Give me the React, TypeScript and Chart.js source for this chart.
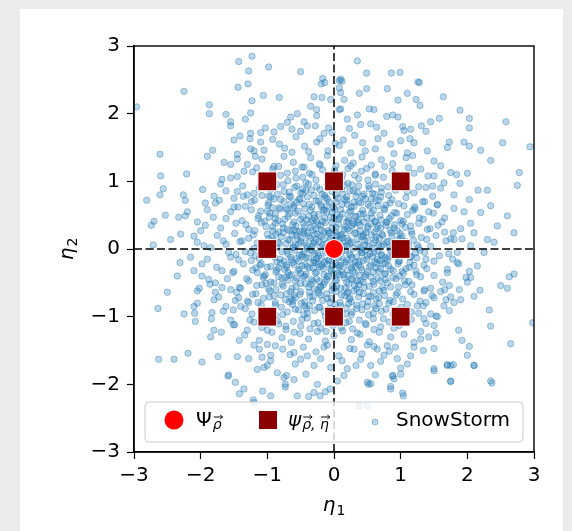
import React, { useEffect, useRef } from "react";
import { Chart, registerables } from "chart.js";

Chart.register(...registerables);

// ---------- data ----------
const axisMin = -3;
const axisMax = 3;
const tickValues = [-3, -2, -1, 0, 1, 2, 3];

const psiRho: [number, number][] = [[0, 0]];
const psiRhoEta: [number, number][] = [
  [-1, 1], [0, 1], [1, 1],
  [-1, 0], [1, 0],
  [-1, -1], [0, -1], [1, -1],
];
const dashVertical: [number, number][] = [[0, -3], [0, 3]];
const dashHorizontal: [number, number][] = [[-3, 0], [3, 0]];

const snowOuter: [number, number][] = [
  [-1.23,2.85],[-1.43,2.77],[-1.28,2.63],[-0.98,2.69],[-0.5,2.62],[-0.17,2.52],[-0.14,2.46],[-2.25,2.33],[-1.44,2.39],[-1.29,2.44],
  [-1.06,2.27],[-0.82,2.24],[-1.23,2.19],[-0.3,2.25],[-0.18,2.24],[-0.05,2.21],[-2.96,2.1],[-1.87,2.13],[-1.87,2.0],[-1.62,1.99],
  [-1.25,2.01],[-1.33,1.92],[-1.55,1.88],[-1.55,1.82],[-0.55,2.0],[-0.35,2.11],[-0.26,2.06],[-0.26,1.97],[-1.03,1.79],[-0.9,1.73],
  [-0.8,1.81],[-0.7,1.87],[-0.63,1.77],[-0.5,1.74],[-0.4,1.82],[-0.28,1.82],[-0.15,1.71],[-0.08,1.79],[-1.5,1.61],[-1.41,1.67],
  [-1.25,1.71],[-1.26,1.63],[-2.61,1.4],[-1.9,1.37],[-1.82,1.46],[-1.65,1.28],[-1.55,1.25],[-1.45,1.33],[-1.25,1.48],[-1.18,1.37],
  [-2.6,1.08],[-2.21,1.11],[-2.56,0.89],[-2.61,0.8],[-2.81,0.72],[-2.7,0.41],[-2.74,0.35],[-2.53,0.5],[-2.33,0.47],[-2.23,0.49],
  [-2.26,0.8],[-2.23,0.72],[-2.3,0.22],[-2.45,0.14],[-2.71,0.06],[-2.1,0.19],[-2.0,0.27],[-2.05,0.4],[-1.93,0.68],[-1.8,0.78],
  [-1.7,0.96],[-1.68,1.03],[-0.19,2.44],[0.08,2.38],[0.1,2.07],
  [0.35,2.78],[0.49,2.6],[0.86,2.6],[0.99,2.61],[1.26,2.47],[1.28,2.46],[0.1,2.51],[0.12,2.48],[0.49,2.37],[0.8,2.37],
  [0.38,2.3],[1.1,2.3],[0.96,2.2],[1.23,2.21],[1.29,2.12],[1.64,2.25],[1.89,2.05],[2.03,1.93],[2.03,1.79],[2.58,1.88],
  [2.94,1.51],[0.53,2.07],[0.6,2.06],[0.79,1.96],[0.88,1.98],[0.96,1.95],[0.35,1.98],[0.4,1.84],[0.23,1.78],[0.64,1.8],
  [0.75,1.71],[1.03,1.81],[1.15,1.77],[1.31,1.82],[1.38,1.74],[1.45,1.88],[1.58,1.93],[1.2,1.57],[1.73,1.58],[1.7,1.5],
  [1.95,1.58],[2.03,1.52],[2.2,1.46],[2.35,1.31],[2.53,1.57],[2.78,1.13],[2.75,0.94],[2.0,1.12],[1.84,1.1],[1.89,0.97],
  [2.16,0.87],[2.3,0.87],[2.03,0.73],[0.08,2.49],[0.1,2.31],[0.15,2.21],[0.08,2.06],[1.14,1.63],[1.1,1.42],[1.5,1.3],
  [1.6,1.23],[1.75,1.13],[1.65,0.98],[1.48,0.93],[2.35,0.64],[2.2,0.54],[2.6,0.49],[2.45,0.34],[2.1,0.24],[2.3,0.14],
  [2.7,0.24],[1.8,0.14],
  [-2.5,-0.64],[-2.64,-0.88],[-2.31,-0.2],[-2.1,-0.32],[-1.98,-0.22],[-2.25,-0.96],[-2.09,-0.95],[-2.08,-1.07],[-1.83,-0.94],[-1.84,-1.03],
  [-1.51,-0.9],[-1.51,-1.12],[-1.8,-1.2],[-1.69,-1.23],[-2.63,-1.63],[-2.4,-1.63],[-2.19,-1.54],[-1.98,-1.67],[-1.74,-1.59],[-1.45,-1.59],
  [-1.28,-1.62],[-1.08,-1.6],[-0.95,-1.57],[-1.58,-1.86],[-1.48,-1.97],[-1.35,-2.07],[-1.21,-2.23],[-0.95,-2.17],[-0.85,-1.83],[-0.71,-1.87],
  [-0.73,-2.0],[-0.6,-1.93],[-0.55,-2.17],[-0.38,-2.18],[-0.3,-2.12],[-0.13,-2.11],[-0.25,-2.0],[-1.0,-1.41],[-1.0,-1.72],[-0.6,-1.53],
  [-0.5,-1.63],[-0.3,-1.72],[-1.78,-0.64],[-1.68,-0.57],[-2.05,-0.62],[-1.48,-0.76],[-1.28,-0.79],[-1.59,-1.88],[-1.42,-2.14],[-1.07,-2.1],
  [-0.73,-2.04],[-0.21,-2.17],[-0.06,-2.07],[0.52,-2.0],[0.85,-2.07],[0.88,-1.88],[1.04,-2.17],[1.5,-1.8],[1.75,-1.96],[2.1,-1.72],
  [2.37,-1.98],[1.75,-1.72],[1.7,-1.72],[-1.2,-2.27],[0.38,-2.32],[0.5,-2.32],
  [1.03,-2.13],[0.85,-2.03],[0.5,-1.97],[0.55,-1.99],[0.88,-1.87],[1.0,-1.76],[1.5,-1.77],[1.7,-1.71],[1.79,-1.71],[2.1,-1.72],
  [1.75,-1.95],[2.35,-1.95],[2.65,-1.4],[2.03,-1.44],[2.0,-1.57],[2.35,-1.14],[2.33,-0.9],[1.87,-1.2],[1.53,-1.24],[1.15,-1.58],
  [1.34,-1.5],[1.5,-1.47],[0.95,-1.62],[0.75,-1.57],[0.65,-1.48],[2.98,-1.09],[2.7,-0.37],[2.63,-0.41],[2.5,-0.54],[2.6,-0.58],
  [2.19,-0.61],[2.05,-0.42],[2.03,-0.33],[1.87,-0.22],[2.0,-0.49],[1.73,-0.54],[1.75,-0.71],[1.6,-0.63],[1.65,-0.84],[1.73,-0.91],
  [1.8,-0.79],[1.53,-0.99],[1.45,-0.96],[1.35,-1.03],[1.25,-0.84],[1.38,-0.79],[0.9,-1.92],[1.5,-1.13],[1.3,-1.33],[1.2,-1.38],
  [0.8,-1.43],[0.55,-1.72],[0.4,-1.63],[0.2,-1.77],[0.15,-1.87],[0.3,-1.48],
  [-1.95,0.05],[-2.15,-0.12],[-1.88,-0.45],[-2.02,-0.58],[-1.93,0.35],[-2.2,0.55],[-1.97,0.88],[-2.35,-0.4],[-2.05,-0.8],[-1.85,-1.3],
  [1.9,0.3],[2.05,0.05],[1.85,-0.2],[2.15,-0.25],[1.95,0.55],[1.88,-0.6],[2.25,-0.05],[1.8,0.8],[2.4,0.1],[1.92,-1.35],
];

const snowMid: [number, number][] = [
  [-0.92,1.62],[-0.74,1.49],[-0.57,1.66],[-0.38,1.44],[-0.21,1.63],[-0.03,1.72],[0.14,1.61],[0.31,1.68],[0.47,1.45],[0.66,1.63],
  [0.9,1.41],[0.55,1.85],[-0.65,1.95],[-0.45,1.88],[0.2,1.92],[0.02,1.56],[-1.1,1.58],[1.0,1.6],
  [-0.95,-1.65],[-0.77,-1.48],[-0.58,-1.7],[-0.4,-1.58],[-0.2,-1.62],[-0.05,-1.75],[0.12,-1.65],[0.33,-1.72],[0.5,-1.42],[0.7,-1.66],
  [0.92,-1.45],[-0.75,-1.9],[-0.42,-1.85],[0.05,-1.95],[0.62,-1.86],[1.1,-1.7],[-1.15,-1.78],[-0.15,-1.45],
  [-1.62,0.45],[-1.75,0.2],[-1.58,-0.05],[-1.68,-0.32],[-1.55,-0.6],[-1.8,-0.75],[-1.9,0.58],[-1.72,0.72],[-1.45,0.85],[-1.98,-0.4],
  [-1.62,-0.85],[-2.05,0.1],[-1.85,0.02],[-1.5,0.62],[-1.43,-0.72],[-1.9,-0.15],[-1.66,0.12],[-1.78,-0.5],[-1.36,0.78],[-2.1,-0.85],
  [1.62,0.4],[1.75,0.15],[1.58,-0.1],[1.7,-0.35],[1.55,0.65],[1.8,0.6],[1.92,0.15],[1.66,-0.6],[1.48,0.78],[1.98,-0.42],
  [1.6,0.9],[2.05,0.38],[1.85,-0.05],[1.5,-0.72],[1.42,0.55],[1.9,-0.75],[1.66,0.25],[1.78,-0.15],[1.35,-0.62],[2.1,-0.7],
  [-1.35,1.15],[-1.2,1.45],[-1.55,1.05],[-1.1,1.72],[1.3,1.18],[1.18,1.38],[1.5,1.08],[1.05,1.75],[-1.3,-1.2],[-1.2,-1.42],
  [-1.55,-1.05],[-1.05,-1.75],[1.3,-1.22],[1.2,-1.45],[1.55,-1.0],[1.0,-1.85],[-1.45,1.4],[1.4,1.45],[-1.42,-1.35],[1.42,-1.3],
];

const snowCore: [number, number][] = [
  [-1.62,0.07],[0.35,0.15],[-0.12,0.02],[0.81,0.11],[-0.79,0.18],[1.45,0.04],[-0.44,0.09],[0.13,0.17],[-1.07,0.05],[0.57,0.01],
  [-0.27,0.14],[1.02,0.19],[-0.61,0.03],[0.24,0.08],[-0.91,0.12],[0.68,0.16],[-0.02,0.1],[-1.28,0.16],[0.46,0.06],[-0.38,0.19],
  [0.94,0.03],[-0.17,0.06],[1.19,0.13],[-0.72,0.08],[0.03,0.18],[-0.55,0.15],[0.29,0.01],[-1.41,0.11],[0.74,0.07],[-0.33,0.04],
  [1.31,0.17],[-0.06,0.13],[0.51,0.12],[-0.86,0.02],[0.19,0.05],[-0.49,0.17],[0.87,0.19],[-1.15,0.09],[0.4,0.02],[-0.22,0.11],
  [1.1,0.08],[-0.66,0.13],[0.63,0.18],[-0.98,0.15],[0.08,0.07],[1.68,0.12],[-0.58,0.06],[-0.31,0.08],[0.09,0.14],[0.44,0.19],
  [-0.84,0.1],[0.71,0.04],[-1.2,0.01],[1.25,0.06],[-0.05,0.16],[0.22,0.12],[-0.4,0.01],[0.6,0.09],[-0.95,0.07],[0.97,0.14],
  [-1.55,-0.12],[0.42,-0.05],[-0.08,-0.17],[0.88,-0.09],[-0.71,-0.03],[1.38,-0.15],[-0.47,-0.11],[0.17,-0.02],[-1.12,-0.14],[0.61,-0.19],
  [-0.29,-0.07],[1.06,-0.04],[-0.64,-0.16],[0.27,-0.13],[-0.93,-0.06],[0.72,-0.1],[0.01,-0.08],[-1.33,-0.04],[0.49,-0.15],[-0.36,-0.01],
  [0.98,-0.18],[-0.19,-0.14],[1.22,-0.06],[-0.75,-0.18],[0.05,-0.03],[-0.52,-0.09],[0.32,-0.19],[-1.47,-0.08],[0.77,-0.13],[-0.3,-0.17],
  [1.29,-0.02],[-0.03,-0.11],[0.54,-0.07],[-0.89,-0.12],[0.2,-0.16],[-0.45,-0.04],[0.84,-0.01],[-1.18,-0.1],[0.38,-0.18],[-0.24,-0.06],
  [1.14,-0.12],[-0.69,-0.07],[0.66,-0.03],[-1.01,-0.05],[0.11,-0.12],[1.72,-0.07],[-0.56,-0.14],[-0.14,-0.19],[0.07,-0.06],[0.47,-0.02],
  [-0.81,-0.15],[0.69,-0.17],[-1.24,-0.17],[1.16,-0.11],[-0.1,-0.04],[0.25,-0.09],[-0.42,-0.13],[0.58,-0.11],[-0.97,-0.01],[0.92,-0.05],
  [-1.7,0.31],[-1.49,0.23],[-1.32,0.36],[-1.19,0.27],[-1.09,0.39],[-1.0,0.22],[-0.92,0.33],[-0.83,0.25],[-0.77,0.37],[-0.7,0.29],
  [-0.63,0.21],[-0.57,0.34],[-0.51,0.26],[-0.46,0.38],[-0.4,0.24],[-0.35,0.32],[-0.29,0.21],[-0.24,0.36],[-0.19,0.28],[-0.13,0.39],
  [-0.08,0.23],[-0.03,0.31],[0.02,0.26],[0.07,0.37],[0.12,0.22],[0.17,0.33],[0.23,0.27],[0.28,0.38],[0.33,0.24],[0.39,0.35],
  [0.44,0.21],[0.5,0.3],[0.55,0.37],[0.61,0.25],[0.66,0.34],[0.72,0.22],[0.78,0.39],[0.84,0.28],[0.91,0.36],[0.99,0.23],
  [1.07,0.32],[1.16,0.26],[1.27,0.38],[1.4,0.29],[1.56,0.35],[1.79,0.24],[-0.6,0.28],[-0.27,0.3],[0.05,0.21],[0.36,0.39],
  [0.7,0.31],[-0.88,0.38],[1.02,0.37],[-0.15,0.25],[0.2,0.3],[-0.45,0.27],
  [-1.76,-0.27],[-1.52,-0.35],[-1.36,-0.22],[-1.22,-0.31],[-1.11,-0.24],[-1.03,-0.38],[-0.95,-0.26],[-0.87,-0.34],[-0.8,-0.21],[-0.74,-0.3],
  [-0.67,-0.39],[-0.6,-0.23],[-0.54,-0.32],[-0.48,-0.25],[-0.42,-0.37],[-0.37,-0.28],[-0.31,-0.2],[-0.26,-0.34],[-0.2,-0.26],[-0.15,-0.38],
  [-0.1,-0.22],[-0.05,-0.3],[0.0,-0.36],[0.06,-0.24],[0.11,-0.33],[0.16,-0.21],[0.21,-0.39],[0.26,-0.28],[0.31,-0.35],[0.37,-0.23],
  [0.42,-0.31],[0.48,-0.38],[0.53,-0.26],[0.59,-0.34],[0.64,-0.21],[0.7,-0.29],[0.76,-0.37],[0.82,-0.25],[0.89,-0.32],[0.96,-0.22],
  [1.04,-0.36],[1.13,-0.27],[1.23,-0.33],[1.35,-0.24],[1.5,-0.39],[1.7,-0.3],[-0.83,-0.28],[-0.5,-0.36],[-0.23,-0.23],[0.09,-0.38],
  [0.4,-0.27],[0.73,-0.22],[-1.15,-0.35],[1.08,-0.29],[-0.02,-0.25],[0.28,-0.33],
  [-1.81,0.47],[-1.55,0.55],[-1.38,0.42],[-1.24,0.58],[-1.13,0.49],[-1.04,0.41],[-0.96,0.53],[-0.88,0.45],[-0.81,0.59],[-0.74,0.44],
  [-0.67,0.52],[-0.6,0.4],[-0.54,0.56],[-0.47,0.48],[-0.41,0.43],[-0.35,0.57],[-0.29,0.46],[-0.23,0.51],[-0.17,0.41],[-0.11,0.55],
  [-0.05,0.47],[0.01,0.59],[0.07,0.44],[0.13,0.52],[0.19,0.4],[0.25,0.56],[0.31,0.48],[0.37,0.43],[0.43,0.57],[0.49,0.46],
  [0.56,0.53],[0.62,0.41],[0.69,0.5],[0.76,0.58],[0.83,0.45],[0.91,0.54],[1.0,0.42],[1.1,0.51],[1.21,0.59],[1.34,0.44],
  [1.49,0.53],[1.66,0.46],[-0.7,0.58],[-0.32,0.42],[0.04,0.5],[0.4,0.52],[0.8,0.4],[-1.0,0.56],[0.22,0.45],[-0.14,0.58],
  [-1.86,-0.52],[-1.6,-0.44],[-1.42,-0.57],[-1.28,-0.47],[-1.16,-0.54],[-1.06,-0.42],[-0.98,-0.59],[-0.9,-0.5],[-0.83,-0.41],[-0.76,-0.55],
  [-0.69,-0.46],[-0.63,-0.58],[-0.56,-0.43],[-0.5,-0.51],[-0.44,-0.4],[-0.38,-0.56],[-0.32,-0.48],[-0.26,-0.44],[-0.2,-0.57],[-0.14,-0.49],
  [-0.08,-0.41],[-0.02,-0.54],[0.04,-0.46],[0.1,-0.58],[0.16,-0.43],[0.22,-0.52],[0.28,-0.45],[0.34,-0.59],[0.4,-0.47],[0.46,-0.41],
  [0.53,-0.55],[0.59,-0.48],[0.66,-0.43],[0.73,-0.57],[0.8,-0.5],[0.88,-0.42],[0.97,-0.56],[1.06,-0.47],[1.17,-0.53],[1.3,-0.41],
  [1.45,-0.58],[1.63,-0.49],[-0.73,-0.42],[-0.35,-0.52],[0.0,-0.58],[0.37,-0.53],[0.77,-0.45],[-1.02,-0.51],[0.19,-0.49],[-0.11,-0.45],
  [-1.78,0.68],[-1.5,0.75],[-1.33,0.63],[-1.19,0.72],[-1.08,0.79],[-0.99,0.65],[-0.9,0.74],[-0.82,0.61],[-0.75,0.7],[-0.67,0.78],
  [-0.6,0.64],[-0.53,0.73],[-0.46,0.67],[-0.4,0.77],[-0.33,0.62],[-0.27,0.71],[-0.2,0.66],[-0.14,0.79],[-0.07,0.69],[-0.01,0.61],
  [0.06,0.75],[0.12,0.66],[0.19,0.72],[0.26,0.62],[0.33,0.78],[0.4,0.68],[0.47,0.74],[0.54,0.63],[0.62,0.71],[0.7,0.77],
  [0.78,0.65],[0.87,0.73],[0.97,0.67],[1.08,0.76],[1.21,0.62],[1.36,0.7],[1.55,0.66],[-0.56,0.69],[-0.1,0.74],[0.3,0.69],
  [0.66,0.64],[-0.95,0.77],
  [-1.73,-0.71],[-1.46,-0.64],[-1.3,-0.77],[-1.17,-0.66],[-1.06,-0.73],[-0.96,-0.62],[-0.88,-0.79],[-0.8,-0.68],[-0.73,-0.75],[-0.65,-0.63],
  [-0.58,-0.72],[-0.51,-0.67],[-0.44,-0.78],[-0.37,-0.64],[-0.31,-0.7],[-0.24,-0.61],[-0.17,-0.76],[-0.11,-0.66],[-0.04,-0.73],[0.03,-0.63],
  [0.09,-0.79],[0.16,-0.69],[0.23,-0.74],[0.3,-0.62],[0.37,-0.71],[0.44,-0.66],[0.51,-0.78],[0.59,-0.64],[0.67,-0.72],[0.75,-0.61],
  [0.84,-0.76],[0.93,-0.68],[1.03,-0.74],[1.15,-0.63],[1.29,-0.77],[1.47,-0.69],[1.68,-0.75],[-0.62,-0.77],[-0.2,-0.68],[0.2,-0.65],
  [0.55,-0.7],[0.89,-0.78],
  [-1.62,0.86],[-1.37,0.93],[-1.2,0.82],[-1.06,0.97],[-0.95,0.88],[-0.85,0.81],[-0.76,0.95],[-0.67,0.84],[-0.59,0.91],[-0.5,0.83],
  [-0.42,0.98],[-0.34,0.87],[-0.26,0.92],[-0.18,0.81],[-0.1,0.96],[-0.03,0.85],[0.05,0.9],[0.13,0.82],[0.21,0.97],[0.29,0.86],
  [0.37,0.93],[0.45,0.81],[0.53,0.89],[0.62,0.96],[0.71,0.84],[0.81,0.92],[0.92,0.87],[1.05,0.95],[1.2,0.83],[1.38,0.91],
  [-0.47,0.89],[0.16,0.94],[0.58,0.82],
  [-1.66,-0.92],[-1.4,-0.85],[-1.23,-0.96],[-1.09,-0.83],[-0.98,-0.91],[-0.88,-0.98],[-0.79,-0.86],[-0.7,-0.93],[-0.62,-0.82],[-0.53,-0.9],
  [-0.45,-0.97],[-0.37,-0.84],[-0.29,-0.91],[-0.21,-0.86],[-0.13,-0.99],[-0.06,-0.88],[0.02,-0.82],[0.1,-0.94],[0.18,-0.87],[0.26,-0.97],
  [0.34,-0.83],[0.42,-0.9],[0.5,-0.85],[0.59,-0.95],[0.68,-0.81],[0.78,-0.89],[0.89,-0.96],[1.01,-0.86],[1.16,-0.93],[1.34,-0.84],
  [-0.41,-0.88],[0.22,-0.81],[0.63,-0.88],
  [-1.45,1.07],[-1.22,1.14],[-1.05,1.03],[-0.92,1.18],[-0.8,1.09],[-0.69,1.01],[-0.58,1.15],[-0.47,1.06],[-0.37,1.12],[-0.27,1.02],
  [-0.17,1.17],[-0.08,1.08],[0.02,1.13],[0.11,1.04],[0.21,1.19],[0.31,1.09],[0.41,1.15],[0.51,1.02],[0.62,1.11],[0.74,1.06],
  [0.87,1.16],[1.02,1.05],[1.2,1.12],[1.41,1.08],
  [-1.49,-1.12],[-1.26,-1.05],[-1.08,-1.16],[-0.95,-1.04],[-0.83,-1.11],[-0.72,-1.19],[-0.61,-1.07],[-0.5,-1.14],[-0.4,-1.02],[-0.3,-1.1],
  [-0.2,-1.17],[-0.11,-1.06],[-0.01,-1.13],[0.09,-1.01],[0.18,-1.09],[0.28,-1.18],[0.38,-1.05],[0.48,-1.12],[0.59,-1.03],[0.7,-1.15],
  [0.83,-1.08],[0.98,-1.13],[1.16,-1.04],[1.38,-1.1],
  [-1.3,1.25],[-1.08,1.33],[-0.9,1.22],[-0.75,1.37],[-0.61,1.28],[-0.48,1.21],[-0.35,1.35],[-0.22,1.26],[-0.1,1.38],[0.03,1.23],
  [0.16,1.31],[0.29,1.27],[0.42,1.36],[0.56,1.24],[0.71,1.32],[0.88,1.26],[1.08,1.35],
  [-1.34,-1.27],[-1.12,-1.35],[-0.93,-1.23],[-0.78,-1.31],[-0.64,-1.38],[-0.51,-1.25],[-0.38,-1.33],[-0.25,-1.22],[-0.13,-1.36],[0.0,-1.28],
  [0.13,-1.21],[0.26,-1.34],[0.39,-1.26],[0.53,-1.37],[0.68,-1.23],[0.85,-1.3],[1.05,-1.26],
  [-1.05,1.46],[-0.82,1.55],[-0.63,1.43],[-0.44,1.52],[-0.26,1.58],[-0.09,1.45],[0.08,1.53],[0.25,1.42],[0.43,1.57],[0.62,1.48],[0.85,1.55],
  [-1.12,-1.48],[-0.88,-1.43],[-0.66,-1.56],[-0.46,-1.45],[-0.27,-1.52],[-0.1,-1.42],[0.07,-1.58],[0.24,-1.47],[0.42,-1.55],[0.6,-1.44],[0.83,-1.51],
];

const snowInner: [number, number][] = [
  [-1.38,0.12],[-1.21,0.21],[-1.04,0.03],[-0.93,0.17],[-0.82,0.08],[-0.76,0.24],[-0.69,0.14],[-0.62,0.02],[-0.57,0.2],[-0.5,0.11],
  [-0.46,0.23],[-0.41,0.05],[-0.36,0.16],[-0.3,0.1],[-0.25,0.22],[-0.21,0.03],[-0.16,0.15],[-0.11,0.08],[-0.07,0.24],[-0.01,0.05],
  [0.04,0.12],[0.1,0.2],[0.15,0.04],[0.2,0.16],[0.26,0.1],[0.31,0.23],[0.36,0.07],[0.41,0.18],[0.46,0.12],[0.52,0.03],
  [0.56,0.21],[0.62,0.13],[0.67,0.06],[0.73,0.2],[0.79,0.1],[0.86,0.24],[0.93,0.06],[1.0,0.16],[1.08,0.11],[1.17,0.22],
  [1.27,0.02],[1.39,0.14],[1.53,0.2],[-0.53,0.07],[-0.19,0.19],[0.13,0.09],[0.48,0.24],[0.83,0.02],[-0.87,0.22],[1.12,0.05],
  [-1.43,-0.16],[-1.25,-0.06],[-1.09,-0.22],[-0.97,-0.1],[-0.86,-0.19],[-0.78,-0.04],[-0.71,-0.24],[-0.65,-0.12],[-0.59,-0.02],[-0.53,-0.18],
  [-0.48,-0.08],[-0.43,-0.23],[-0.38,-0.13],[-0.33,-0.03],[-0.28,-0.2],[-0.23,-0.1],[-0.18,-0.24],[-0.13,-0.05],[-0.08,-0.16],[-0.04,-0.09],
  [0.02,-0.21],[0.07,-0.13],[0.12,-0.03],[0.18,-0.19],[0.23,-0.07],[0.28,-0.23],[0.34,-0.12],[0.39,-0.02],[0.44,-0.17],[0.5,-0.1],
  [0.55,-0.24],[0.6,-0.05],[0.65,-0.15],[0.71,-0.08],[0.77,-0.21],[0.83,-0.11],[0.9,-0.03],[0.97,-0.18],[1.05,-0.08],[1.14,-0.2],
  [1.24,-0.13],[1.36,-0.05],[1.5,-0.18],[-0.62,-0.2],[-0.26,-0.14],[0.1,-0.24],[0.42,-0.06],[0.8,-0.16],[-0.92,-0.03],[1.2,-0.24],
  [-1.47,0.38],[-1.28,0.29],[-1.14,0.45],[-1.02,0.33],[-0.92,0.27],[-0.84,0.42],[-0.76,0.31],[-0.69,0.48],[-0.62,0.36],[-0.56,0.26],
  [-0.5,0.44],[-0.44,0.33],[-0.38,0.49],[-0.32,0.28],[-0.26,0.41],[-0.2,0.35],[-0.14,0.46],[-0.09,0.27],[-0.03,0.39],[0.03,0.32],
  [0.09,0.47],[0.15,0.29],[0.21,0.42],[0.27,0.34],[0.33,0.48],[0.39,0.27],[0.45,0.4],[0.51,0.33],[0.57,0.46],[0.64,0.3],
  [0.71,0.43],[0.78,0.35],[0.86,0.49],[0.95,0.27],[1.04,0.41],[1.15,0.34],[1.28,0.46],[1.44,0.3],[-0.66,0.27],[-0.35,0.39],
  [0.0,0.45],[0.3,0.37],[0.62,0.4],[-0.97,0.47],[0.9,0.31],
  [-1.5,-0.33],[-1.31,-0.44],[-1.17,-0.28],[-1.05,-0.4],[-0.95,-0.49],[-0.86,-0.31],[-0.78,-0.43],[-0.71,-0.27],[-0.64,-0.38],[-0.58,-0.47],
  [-0.52,-0.3],[-0.46,-0.41],[-0.4,-0.26],[-0.34,-0.45],[-0.28,-0.35],[-0.22,-0.48],[-0.16,-0.29],[-0.1,-0.4],[-0.04,-0.32],[0.02,-0.46],
  [0.08,-0.27],[0.14,-0.38],[0.2,-0.31],[0.26,-0.44],[0.32,-0.26],[0.38,-0.39],[0.44,-0.49],[0.5,-0.34],[0.56,-0.42],[0.63,-0.28],
  [0.7,-0.47],[0.77,-0.36],[0.85,-0.3],[0.93,-0.44],[1.02,-0.33],[1.12,-0.48],[1.24,-0.38],[1.39,-0.29],[-0.69,-0.35],[-0.31,-0.28],
  [0.05,-0.36],[0.35,-0.47],[0.67,-0.33],[-1.0,-0.27],[0.98,-0.4],
  [-1.44,0.62],[-1.24,0.7],[-1.1,0.56],[-0.98,0.68],[-0.88,0.52],[-0.8,0.73],[-0.72,0.6],[-0.65,0.67],[-0.58,0.53],[-0.51,0.74],
  [-0.44,0.59],[-0.37,0.66],[-0.3,0.51],[-0.23,0.71],[-0.16,0.57],[-0.1,0.64],[-0.03,0.54],[0.03,0.69],[0.1,0.58],[0.16,0.73],
  [0.23,0.55],[0.3,0.63],[0.37,0.7],[0.44,0.52],[0.51,0.66],[0.59,0.57],[0.67,0.72],[0.75,0.6],[0.84,0.68],[0.94,0.53],
  [1.05,0.64],[1.18,0.57],[1.33,0.7],[-0.61,0.61],[-0.19,0.62],[0.2,0.66],[0.56,0.74],[-0.92,0.61],
  [-1.4,-0.58],[-1.22,-0.67],[-1.08,-0.53],[-0.97,-0.71],[-0.87,-0.6],[-0.78,-0.52],[-0.71,-0.66],[-0.64,-0.74],[-0.57,-0.56],[-0.5,-0.63],
  [-0.43,-0.51],[-0.36,-0.7],[-0.29,-0.59],[-0.23,-0.65],[-0.16,-0.53],[-0.1,-0.73],[-0.03,-0.61],[0.04,-0.55],[0.11,-0.68],[0.17,-0.58],
  [0.24,-0.72],[0.31,-0.54],[0.38,-0.64],[0.45,-0.57],[0.52,-0.7],[0.6,-0.52],[0.68,-0.62],[0.76,-0.69],[0.85,-0.56],[0.95,-0.65],
  [1.07,-0.53],[1.2,-0.67],[1.36,-0.6],[-0.6,-0.68],[-0.2,-0.55],[0.21,-0.63],[0.63,-0.74],[-0.9,-0.69],
  [-1.3,0.8],[-1.12,0.9],[-0.98,0.78],[-0.86,0.95],[-0.75,0.85],[-0.65,0.77],[-0.56,0.93],[-0.47,0.82],[-0.38,0.96],[-0.3,0.79],
  [-0.21,0.88],[-0.13,0.76],[-0.05,0.94],[0.03,0.8],[0.11,0.89],[0.19,0.77],[0.27,0.95],[0.35,0.84],[0.43,0.78],[0.52,0.93],
  [0.61,0.81],[0.71,0.9],[0.82,0.79],[0.95,0.96],[1.1,0.85],[1.27,0.92],[-0.42,0.87],[0.24,0.86],
  [-1.33,-0.88],[-1.14,-0.79],[-1.0,-0.94],[-0.88,-0.83],[-0.77,-0.97],[-0.67,-0.78],[-0.58,-0.89],[-0.49,-0.8],[-0.4,-0.95],[-0.32,-0.77],
  [-0.23,-0.86],[-0.15,-0.92],[-0.06,-0.79],[0.02,-0.9],[0.1,-0.84],[0.18,-0.96],[0.26,-0.78],[0.34,-0.88],[0.43,-0.81],[0.52,-0.97],
  [0.61,-0.84],[0.71,-0.92],[0.82,-0.8],[0.95,-0.9],[1.1,-0.82],[1.27,-0.95],[-0.44,-0.84],[0.27,-0.93],
  [-1.16,1.2],[-0.97,1.08],[-0.83,1.22],[-0.7,1.12],[-0.57,1.05],[-0.45,1.21],[-0.33,1.1],[-0.21,1.24],[-0.1,1.03],[0.01,1.17],
  [0.13,1.1],[0.25,1.23],[0.37,1.04],[0.49,1.19],[0.62,1.09],[0.76,1.22],[0.92,1.1],[1.12,1.2],
  [-1.2,-1.08],[-1.0,-1.2],[-0.85,-1.06],[-0.72,-1.14],[-0.6,-1.23],[-0.48,-1.04],[-0.36,-1.18],[-0.24,-1.09],[-0.12,-1.22],[-0.01,-1.05],
  [0.11,-1.16],[0.23,-1.07],[0.35,-1.24],[0.47,-1.1],[0.6,-1.19],[0.74,-1.03],[0.9,-1.17],[1.1,-1.08],
];

// ---------- styles ----------
const FONT = "'DejaVu Sans', 'Liberation Sans', sans-serif";
const SNOW_FILL = "rgba(31,119,180,0.3)";
const SNOW_EDGE = "rgba(31,119,180,0.38)";
const SQUARE_COLOR = "#8b0000";
const CIRCLE_COLOR = "#ff0000";

const toXY = (arr: [number, number][]) => arr.map(([x, y]) => ({ x, y }));
const fmt = (v: number) => (v < 0 ? "\u2212" + Math.abs(v) : String(v));

function drawArrow(ctx: CanvasRenderingContext2D, x0: number, x1: number, y: number) {
  ctx.save();
  ctx.strokeStyle = "#111";
  ctx.lineWidth = 1;
  ctx.beginPath();
  ctx.moveTo(x0, y);
  ctx.lineTo(x1, y);
  ctx.moveTo(x1 - 2.5, y - 2);
  ctx.lineTo(x1, y);
  ctx.lineTo(x1 - 2.5, y + 2);
  ctx.stroke();
  ctx.restore();
}

const decorPlugin = {
  id: "decor",
  afterDatasetsDraw(chart: any) {
    const ctx: CanvasRenderingContext2D = chart.ctx;
    const a = chart.chartArea;
    ctx.save();
    ctx.strokeStyle = "#000";
    ctx.lineWidth = 1.4;
    ctx.strokeRect(a.left, a.top, a.right - a.left, a.bottom - a.top);
    ctx.restore();

    // legend
    const lx = a.left + 11;
    const lr = a.right - 11;
    const lb = a.bottom - 10;
    const lt = lb - 40;
    ctx.save();
    ctx.beginPath();
    const r = 4;
    ctx.moveTo(lx + r, lt);
    ctx.lineTo(lr - r, lt);
    ctx.quadraticCurveTo(lr, lt, lr, lt + r);
    ctx.lineTo(lr, lb - r);
    ctx.quadraticCurveTo(lr, lb, lr - r, lb);
    ctx.lineTo(lx + r, lb);
    ctx.quadraticCurveTo(lx, lb, lx, lb - r);
    ctx.lineTo(lx, lt + r);
    ctx.quadraticCurveTo(lx, lt, lx + r, lt);
    ctx.closePath();
    ctx.fillStyle = "rgba(255,255,255,0.8)";
    ctx.fill();
    ctx.strokeStyle = "#cccccc";
    ctx.lineWidth = 1;
    ctx.stroke();

    const cy = lt + 18;
    const base = lt + 24;
    ctx.beginPath();
    ctx.arc(lx + 29, cy, 9.5, 0, Math.PI * 2);
    ctx.fillStyle = CIRCLE_COLOR;
    ctx.fill();
    ctx.fillStyle = "#000";
    ctx.textBaseline = "alphabetic";
    ctx.textAlign = "left";
    ctx.font = `20px ${FONT}`;
    let tx = lx + 51;
    ctx.fillText("Ψ", tx, base);
    tx += ctx.measureText("Ψ").width + 1;
    ctx.font = `italic 14px ${FONT}`;
    ctx.fillText("ρ", tx, base + 3);
    const wr = ctx.measureText("ρ").width;
    drawArrow(ctx, tx + 1, tx + wr + 1, base - 9);

    ctx.fillStyle = SQUARE_COLOR;
    ctx.fillRect(lx + 114, cy - 9, 18, 18);
    ctx.fillStyle = "#000";
    ctx.font = `italic 20px ${FONT}`;
    tx = lx + 143;
    ctx.fillText("ψ", tx, base);
    tx += ctx.measureText("ψ").width + 1;
    ctx.font = `italic 14px ${FONT}`;
    ctx.fillText("ρ, η", tx, base + 3);
    const wr2 = ctx.measureText("ρ").width;
    const wpre = ctx.measureText("ρ, ").width;
    const weta = ctx.measureText("η").width;
    drawArrow(ctx, tx + 1, tx + wr2 + 1, base - 9);
    drawArrow(ctx, tx + wpre + 1, tx + wpre + weta + 1, base - 9);

    ctx.beginPath();
    ctx.arc(lx + 230, cy + 2, 3, 0, Math.PI * 2);
    ctx.fillStyle = SNOW_FILL;
    ctx.fill();
    ctx.strokeStyle = SNOW_EDGE;
    ctx.stroke();
    ctx.fillStyle = "#000";
    ctx.font = `20px ${FONT}`;
    ctx.fillText("SnowStorm", lx + 251, base);
    ctx.restore();
  },
  afterDraw(chart: any) {
    const ctx: CanvasRenderingContext2D = chart.ctx;
    const a = chart.chartArea;
    ctx.save();
    ctx.fillStyle = "#000";
    ctx.textBaseline = "alphabetic";
    ctx.textAlign = "left";
    ctx.font = `italic 20px ${FONT}`;
    const we = ctx.measureText("η").width;
    ctx.font = `14px ${FONT}`;
    const w1 = ctx.measureText("1").width;
    const cx = (a.left + a.right) / 2;
    let x0 = cx - (we + w1 + 1) / 2;
    const by = a.bottom + 59;
    ctx.font = `italic 20px ${FONT}`;
    ctx.fillText("η", x0, by);
    ctx.font = `14px ${FONT}`;
    ctx.fillText("1", x0 + we + 1, by + 4);
    const cyy = (a.top + a.bottom) / 2;
    ctx.translate(a.left - 61, cyy);
    ctx.rotate(-Math.PI / 2);
    ctx.font = `14px ${FONT}`;
    const w2 = ctx.measureText("2").width;
    x0 = -(we + w2 + 1) / 2;
    ctx.font = `italic 20px ${FONT}`;
    ctx.fillText("η", x0, 0);
    ctx.font = `14px ${FONT}`;
    ctx.fillText("2", x0 + we + 1, 4);
    ctx.restore();
  },
};

function axisOptions(isY: boolean) {
  return {
    type: "linear" as const,
    min: axisMin,
    max: axisMax,
    afterBuildTicks: (scale: any) => {
      scale.ticks = tickValues.map((v) => ({ value: v }));
    },
    afterFit: (scale: any) => {
      if (isY) scale.width = 114;
      else scale.height = 79;
    },
    ticks: {
      color: "#000",
      font: { family: FONT, size: 20 },
      padding: isY ? 7 : 5,
      callback: (v: any) => fmt(Number(v)),
      maxRotation: 0,
      autoSkip: false,
    },
    grid: {
      display: true,
      drawOnChartArea: false,
      drawTicks: true,
      tickLength: 7,
      tickColor: "#000",
      tickWidth: 1.2,
    },
    border: { display: true, color: "#000", width: 1.4 },
    title: { display: false },
  };
}

export default function App() {
  const ref = useRef<HTMLCanvasElement | null>(null);
  useEffect(() => {
    if (!ref.current) return;
    const chart = new Chart(ref.current, {
      type: "scatter",
      data: {
        datasets: [
          {
            label: "Ψρ",
            data: toXY(psiRho),
            pointStyle: "circle",
            pointRadius: 9.5,
            backgroundColor: CIRCLE_COLOR,
            borderColor: "#ffffff",
            borderWidth: 1.2,
            order: 0,
          } as any,
          {
            label: "ψρη",
            data: toXY(psiRhoEta),
            pointStyle: "rect",
            pointRadius: 13.3,
            backgroundColor: SQUARE_COLOR,
            borderColor: "#ffffff",
            borderWidth: 1,
            order: 1,
          } as any,
          {
            label: "vline",
            data: toXY(dashVertical),
            showLine: true,
            pointRadius: 0,
            borderColor: "#000",
            borderWidth: 1.5,
            borderDash: [8, 3.5],
            order: 2,
          } as any,
          {
            label: "hline",
            data: toXY(dashHorizontal),
            showLine: true,
            pointRadius: 0,
            borderColor: "#000",
            borderWidth: 1.5,
            borderDash: [8, 3.5],
            order: 2,
          } as any,
          {
            label: "SnowStorm",
            data: toXY([...snowOuter, ...snowMid, ...snowCore, ...snowInner]),
            pointStyle: "circle",
            pointRadius: 3.2,
            backgroundColor: SNOW_FILL,
            borderColor: SNOW_EDGE,
            borderWidth: 1,
            clip: 0,
            order: 3,
          } as any,
        ],
      },
      options: {
        responsive: false,
        animation: false,
        events: [],
        layout: { padding: { left: 0, right: 29, top: 37, bottom: 0 } },
        plugins: {
          legend: { display: false },
          tooltip: { enabled: false },
        },
        scales: {
          x: axisOptions(false) as any,
          y: axisOptions(true) as any,
        },
      },
      plugins: [decorPlugin],
    });
    return () => chart.destroy();
  }, []);

  return (
    <div style={{ position: "fixed", left: 0, top: 0, width: 572, height: 531, background: "#ebebeb" }}>
      <div style={{ position: "absolute", left: 20, top: 9, width: 543, height: 522, background: "#ffffff" }}>
        <canvas ref={ref} width={543} height={522} style={{ display: "block", width: 543, height: 522 }} />
      </div>
    </div>
  );
}
